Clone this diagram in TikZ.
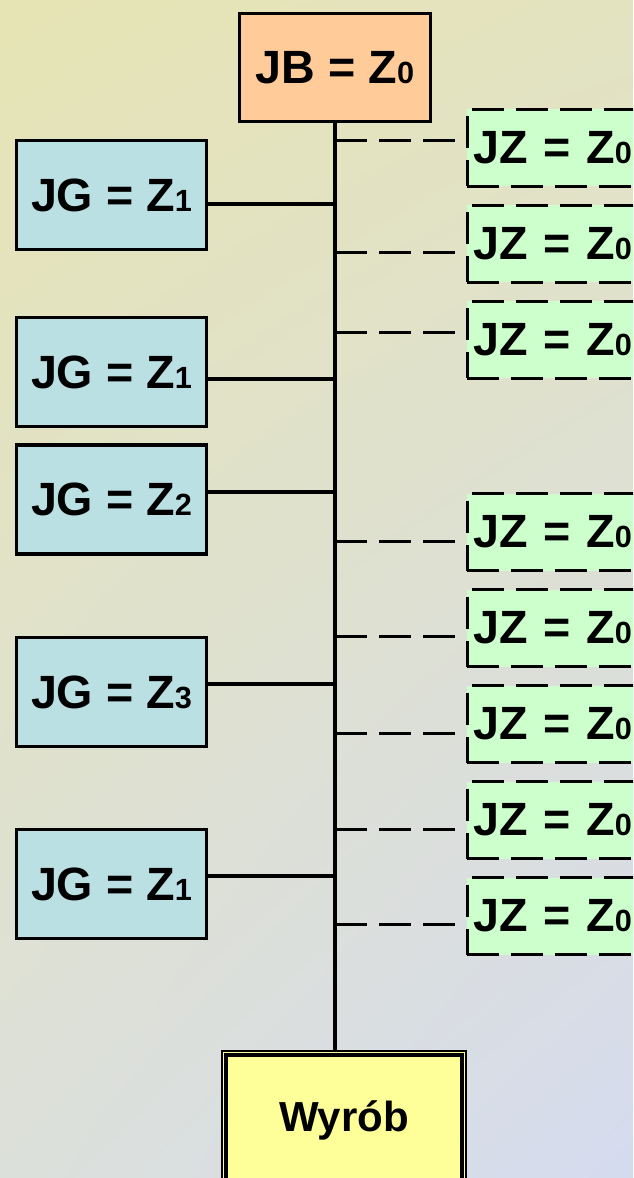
\documentclass[tikz,border=0pt]{standalone}
\usepackage{fontspec}
\setmainfont{Liberation Sans}
\usetikzlibrary{calc,shadings}

\definecolor{bgtl}{RGB}{230,228,180}
\definecolor{bgtr}{RGB}{227,227,192}
\definecolor{bgbl}{RGB}{220,224,218}
\definecolor{bgbr}{RGB}{213,219,239}
\definecolor{jbfill}{RGB}{255,204,153}
\definecolor{jgfill}{RGB}{187,224,227}
\definecolor{jzfill}{RGB}{204,255,204}
\definecolor{wyfill}{RGB}{255,255,153}

\newcommand{\subnum}[1]{{\fontsize{23pt}{23pt}\selectfont #1}}

\begin{document}
\begin{tikzpicture}[x=0.75pt,y=0.75pt,yscale=-1,xscale=1,
  box/.style={draw, line width=2.6pt, inner sep=0pt, font=\fontsize{35pt}{40pt}\selectfont\bfseries},
  jbbox/.style={box, fill=jbfill, minimum width=143pt, minimum height=80.75pt},
  jgbox/.style={box, fill=jgfill, minimum width=142.25pt, minimum height=81.5pt},
  jzbox/.style={box, fill=jzfill, line width=2.25pt, dash pattern=on 24pt off 9pt, anchor=west, minimum height=57.75pt, text width=140pt, align=left, inner xsep=5pt},
  wybox/.style={draw, line width=1.2pt, fill=wyfill, minimum width=183.4pt, minimum height=105pt, font=\fontsize{31.5pt}{36pt}\selectfont\bfseries},
  link/.style={line width=2.7pt},
  dlink/.style={line width=2.25pt, dash pattern=on 24pt off 9pt}]
\useasboundingbox (0,0) rectangle (633,1178);
\clip (0,0) rectangle (633,1178);

%Background
\shade[upper left=bgtl, upper right=bgtr, lower left=bgbl, lower right=bgbr] (0,0) rectangle (633,1178);

%Flowchart: Process [JB]
\node [jbbox] (jb) at (335,67.5) {JB = Z\subnum{0}};

%Flowchart: Process [JG]
\node [jgbox] (jg1) at (111.5,195) {JG = Z\subnum{1}};
\node [jgbox] (jg2) at (111.5,372) {JG = Z\subnum{1}};
\node [jgbox] (jg3) at (111.5,499.5) {JG = Z\subnum{2}};
\node [jgbox] (jg4) at (111.5,692) {JG = Z\subnum{3}};
\node [jgbox] (jg5) at (111.5,884) {JG = Z\subnum{1}};

%Flowchart: Process [JZ]
\node [jzbox] (jz1) at (465.5,147.5) {JZ = Z\subnum{0}};
\node [jzbox] (jz2) at (465.5,243.5) {JZ = Z\subnum{0}};
\node [jzbox] (jz3) at (465.5,339.5) {JZ = Z\subnum{0}};
\node [jzbox] (jz4) at (465.5,532) {JZ = Z\subnum{0}};
\node [jzbox] (jz5) at (465.5,628) {JZ = Z\subnum{0}};
\node [jzbox] (jz6) at (465.5,724) {JZ = Z\subnum{0}};
\node [jzbox] (jz7) at (465.5,820) {JZ = Z\subnum{0}};
\node [jzbox] (jz8) at (465.5,916) {JZ = Z\subnum{0}};

%Flowchart: Process [Wyrob]
\node [wybox] (wyrob) at (344,1120.75) {Wyrób};
\draw [link] ($(wyrob.north west)+(5,5)$) rectangle ($(wyrob.south east)+(-5,-5)$);

%Straight Lines [trunk]
\draw [link] (jb.south) -- (jb.south |- wyrob.north);

%Straight Lines [JG]
\draw [link] (jg1.east |- 0,204) -- (jb.south |- 0,204);
\draw [link] (jg2.east |- 0,379) -- (jb.south |- 0,379);
\draw [link] (jg3.east |- 0,492) -- (jb.south |- 0,492);
\draw [link] (jg4.east |- 0,684) -- (jb.south |- 0,684);
\draw [link] (jg5.east |- 0,876) -- (jb.south |- 0,876);

%Straight Lines [JZ]
\draw [dlink] (jb.south |- 0,140) -- (jz1.west |- 0,140);
\draw [dlink] (jb.south |- 0,252) -- (jz2.west |- 0,252);
\draw [dlink] (jb.south |- 0,332) -- (jz3.west |- 0,332);
\draw [dlink] (jb.south |- 0,541) -- (jz4.west |- 0,541);
\draw [dlink] (jb.south |- 0,636) -- (jz5.west |- 0,636);
\draw [dlink] (jb.south |- 0,733) -- (jz6.west |- 0,733);
\draw [dlink] (jb.south |- 0,829) -- (jz7.west |- 0,829);
\draw [dlink] (jb.south |- 0,924) -- (jz8.west |- 0,924);

\end{tikzpicture}
\end{document}
